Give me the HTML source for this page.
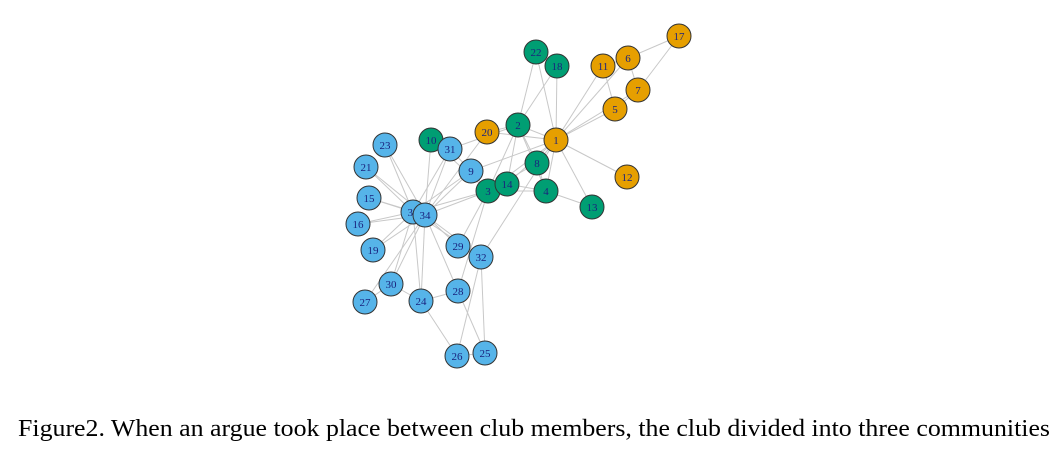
<!DOCTYPE html>
<html><head><meta charset="utf-8"><style>
html,body{margin:0;padding:0;background:#fff;width:1064px;height:452px;overflow:hidden}
svg{display:block}
</style></head><body>
<svg id="chart" width="1064" height="452" xmlns="http://www.w3.org/2000/svg">
<g id="edges"></g>
<g id="nodes"></g>
<text x="18" y="436" font-family="Liberation Serif, serif" font-size="24" textLength="1032" lengthAdjust="spacingAndGlyphs" fill="#000">Figure2. When an argue took place between club members, the club divided into three communities</text>
</svg>
<script>
const nodeIds=[1,2,3,4,5,6,7,8,9,10,11,12,13,14,15,16,17,18,19,20,21,22,23,24,25,26,27,28,29,30,31,32,33,34];
const nodeX=[556,518,488,546,615,628,638,537,471,431,603,627,592,507,369,358,679,557,373,487,366,536,385,421,485,457,365,458,458,391,450,481,413,425];
const nodeY=[140,125,191,191,109,58,90,163,171,140,66,177,207,184,198,224,36,66,250,132,167,52,145,301,353,356,302,291,246,284,149,257,212,215];
const community=[0,1,1,1,0,0,0,1,2,1,0,0,1,1,2,2,0,1,2,0,2,1,2,2,2,2,2,2,2,2,2,2,2,2];
const edgeFrom=[1,1,1,1,1,1,1,1,1,1,1,1,1,1,1,1,2,2,2,2,2,2,2,2,3,3,3,3,3,3,3,3,4,4,4,5,5,6,6,6,7,9,9,9,10,14,15,15,16,16,19,19,20,21,21,23,23,24,24,24,24,24,25,25,25,26,27,27,28,29,29,30,30,31,31,32,32,33];
const edgeTo=[2,3,4,5,6,7,8,9,11,12,13,14,18,20,22,32,3,4,8,14,18,20,22,31,4,8,9,10,14,28,29,33,8,13,14,7,11,7,11,17,17,31,33,34,34,34,33,34,33,34,33,34,34,33,34,33,34,26,28,30,33,34,26,28,32,32,30,34,34,32,34,33,34,33,34,33,34,34];
const colors=["#E69F00","#009E73","#56B4E9"];
const NS="http://www.w3.org/2000/svg";
const px=i=>nodeX[i], py=i=>nodeY[i];
const eg=document.getElementById('edges'), ng=document.getElementById('nodes');
edgeFrom.forEach((a,k)=>{
  const i=nodeIds.indexOf(a), j=nodeIds.indexOf(edgeTo[k]);
  const l=document.createElementNS(NS,'line');
  
  
  l.setAttribute('x1',px(i));l.setAttribute('y1',py(i));
  l.setAttribute('x2',px(j));l.setAttribute('y2',py(j));
  l.setAttribute('stroke','#c8c8c8');l.setAttribute('stroke-width','1');
  eg.appendChild(l);
});
nodeIds.forEach((id,i)=>{
  const g=document.createElementNS(NS,'g');
  
  
  const c=document.createElementNS(NS,'circle');
  c.setAttribute('cx',px(i));c.setAttribute('cy',py(i));c.setAttribute('r',12);
  c.setAttribute('fill',colors[community[i]]);c.setAttribute('stroke','#333');c.setAttribute('stroke-width','1');
  g.appendChild(c);
  const t=document.createElementNS(NS,'text');
  t.setAttribute('x',px(i));t.setAttribute('y',py(i)+4);
  t.setAttribute('text-anchor','middle');t.setAttribute('font-size','11');
  t.setAttribute('font-family','Liberation Serif, serif');t.setAttribute('fill','#1a237e');
  t.textContent=id;
  g.appendChild(t);
  ng.appendChild(g);
});
</script>
</body></html>
